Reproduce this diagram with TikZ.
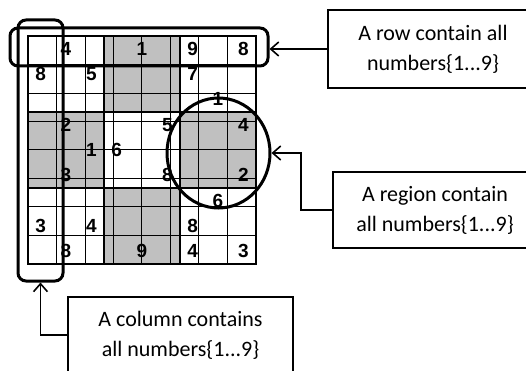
\documentclass[tikz,border=0pt]{standalone}
\usepackage{fontspec}
\setmainfont{Carlito}
\newfontfamily\digitfont{Liberation Sans}
\usepackage{xcolor}
\usetikzlibrary{arrows.meta,positioning,shapes.geometric}
\definecolor{cellgray}{RGB}{192,192,192}
\tikzset{
  notebox/.style={
    draw,
    line width=1.6pt,
    align=center,
    inner sep=0pt,
    minimum width=210pt,
    minimum height=78pt,
    font=\fontsize{22}{30}\selectfont
  },
  markbox/.style={draw, line width=3pt, rounded corners=8pt, inner sep=0pt},
  markring/.style={draw, ellipse, line width=3pt, inner sep=0pt},
  digit/.style={inner sep=0pt, font=\digitfont\bfseries\fontsize{19}{19}\selectfont},
  pointer/.style={-{Straight Barb[length=8pt,width=14pt]}, line width=1.6pt}
}

\begin{document}
\begin{tikzpicture}[x=1pt,y=-1pt]
\useasboundingbox (0,0) rectangle (526,371);
\clip (0,0) rectangle (526,371);

% sudoku grid
\begin{scope}[shift={(28,36)}, x=25.33pt, y=-25.33pt]
  \foreach \i/\j in {3/0,0/3,6/3,3/6}
    \fill[cellgray] (\i,\j) rectangle ++(3,3);
  \draw[line width=0.8pt] (0,0) grid (9,9);
  \foreach \k in {3,6} {
    \draw[line width=1.2pt] (\k,0) -- (\k,9);
    \draw[line width=1.2pt] (0,\k) -- (9,\k);
  }
  \draw[line width=2pt] (0,0) rectangle (9,9);
  \foreach \r/\c/\d in {1/2/4,1/5/1,1/7/9,1/9/8,
                        2/1/8,2/3/5,2/7/7,
                        3/8/1,
                        4/2/2,4/6/5,4/9/4,
                        5/3/1,5/4/6,
                        6/2/3,6/6/8,6/9/2,
                        7/8/6,
                        8/1/3,8/3/4,8/7/8,
                        9/2/8,9/5/9,9/7/4,9/9/3}
    \node[digit] (d-\r-\c) at (\c-0.5,\r-0.5) {\d};
\end{scope}

% markers
\node[markbox, minimum width=258pt, minimum height=38pt] (rowmark) at (139,47) {};
\node[markbox, minimum width=45pt, minimum height=261pt] (colmark) at (40.5,150.5) {};
\node[markring, minimum width=103pt, minimum height=110pt] (regionmark) at (218.5,153) {};

% notes
\node[notebox] (rownote) at (433,49) {A row contain all\\numbers\{1...9\}};
\node[notebox, minimum width=204pt, minimum height=76pt] (regionnote) at (435,210) {A region contain\\all numbers\{1...9\}};
\node[notebox, minimum width=225pt, minimum height=76pt] (colnote) at (180.5,335) {A column contains\\all numbers\{1...9\}};

\draw[pointer] (rownote.west) -- (rownote.west -| rowmark.east);
\draw[pointer] (regionnote.west) -- ++(-31,0) |- (regionmark.east);
\draw[pointer] (colnote.west) -| (colmark.south);
\end{tikzpicture}
\end{document}
